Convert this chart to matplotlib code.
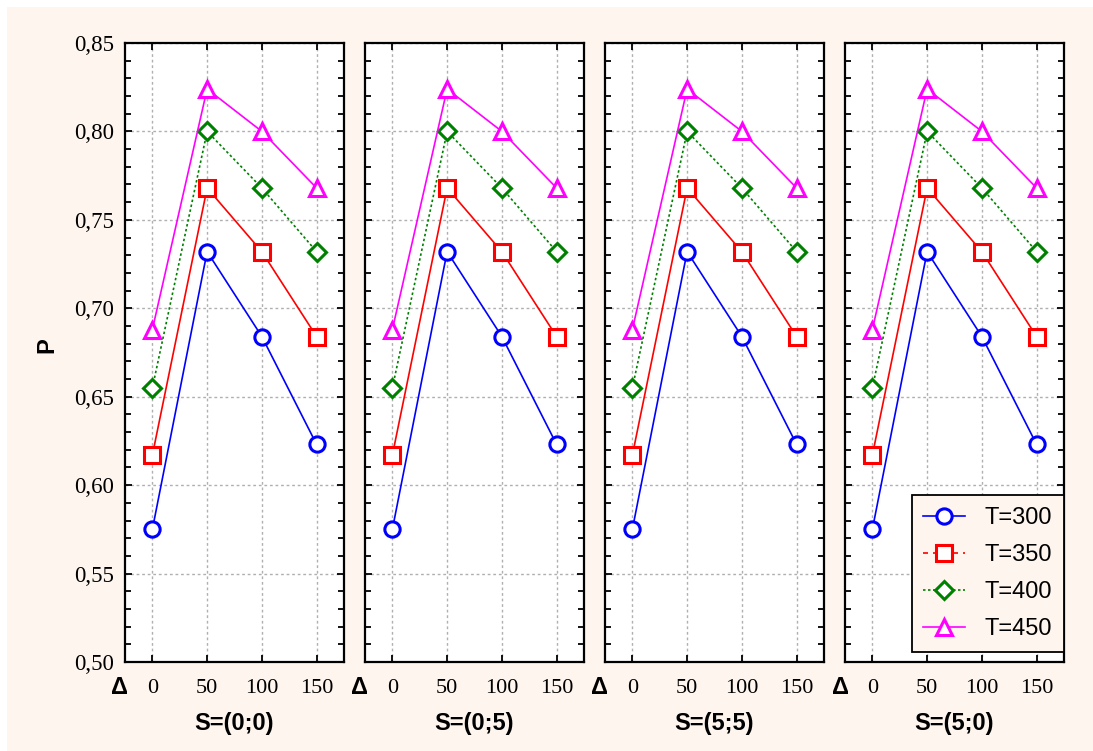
import matplotlib
matplotlib.use("Agg")
import matplotlib.pyplot as plt
from matplotlib.patches import Rectangle
from matplotlib.lines import Line2D
from matplotlib.ticker import MultipleLocator, FixedLocator

# ---- data ----
delta = [0, 50, 100, 150]
panels = ["S=(0;0)", "S=(0;5)", "S=(5;5)", "S=(5;0)"]
series_labels = ["T=300", "T=350", "T=400", "T=450"]
p_t300 = [0.575, 0.732, 0.684, 0.623]
p_t350 = [0.617, 0.768, 0.732, 0.684]
p_t400 = [0.655, 0.800, 0.768, 0.732]
p_t450 = [0.688, 0.824, 0.800, 0.768]
series_values = [p_t300, p_t350, p_t400, p_t450]
y_ticks = [0.50, 0.55, 0.60, 0.65, 0.70, 0.75, 0.80, 0.85]

# ---- styles ----
colors = ["#0000ff", "#ff0000", "#008000", "#ff00ff"]
markers = ["o", "s", "D", "^"]
msizes = [11, 11, 9, 12]
plot_ls = ["-", "-", (0, (1.5, 1.5)), "-"]
leg_ls = ["-", (0, (3, 3)), (0, (1.5, 1.5)), "-"]
cream = "#fdf5ee"

W, H = 1093, 751
fig = plt.figure(figsize=(W / 100, H / 100), dpi=100, facecolor="white")
fig.patches.append(Rectangle((7 / W, 0), 1, 1 - 7 / H, transform=fig.transFigure,
                             facecolor=cream, edgecolor="none", zorder=-10))

lefts = [125, 365, 605, 845]
pw = 219
top, bottom = 43, 662
serif = "Liberation Serif"
sans = "Liberation Sans"

axes = []
for i, lx in enumerate(lefts):
    ax = fig.add_axes([lx / W, 1 - bottom / H, pw / W, (bottom - top) / H])
    ax.set_facecolor("white")
    for vals, c, m, ms, ls in zip(series_values, colors, markers, msizes, plot_ls):
        ax.plot(delta, vals, color=c, lw=1.2, ls=ls, marker=m, ms=ms,
                mfc="white", mec=c, mew=2.2, clip_on=False, zorder=3)
    ax.set_xlim(-25, 175)
    ax.set_ylim(0.50, 0.85)
    ax.xaxis.set_major_locator(FixedLocator(delta))
    ax.yaxis.set_major_locator(FixedLocator(y_ticks))
    ax.yaxis.set_minor_locator(MultipleLocator(0.01))
    ax.grid(True, which="major", color="#b0b0b0", ls=(0, (2, 2)), lw=1.0)
    ax.set_axisbelow(True)
    ax.tick_params(which="both", direction="in", top=True, right=True,
                   width=1.3, colors="black")
    ax.tick_params(which="major", length=5)
    ax.tick_params(which="minor", length=4)
    ax.tick_params(axis="x", labelsize=16, pad=12)
    ax.tick_params(axis="y", labelsize=16.5, pad=8)
    ax.set_xticklabels([str(d) for d in delta], fontfamily=serif)
    if i == 0:
        ax.set_yticklabels([f"{v:.2f}".replace(".", ",") for v in y_ticks],
                           fontfamily=serif)
    else:
        ax.set_yticklabels([])
    for sp in ax.spines.values():
        sp.set_linewidth(1.6)
    ax.set_xlabel(panels[i], fontsize=17, fontweight="bold", fontfamily=sans,
                  labelpad=10)
    fig.text((lx - 5) / W, 1 - 688 / H, "Δ", fontsize=17, fontweight="bold",
             fontfamily=sans, ha="center", va="center")
    axes.append(ax)

fig.text(47 / W, 1 - 345 / H, "P", fontsize=17, fontweight="bold",
         fontfamily=sans, rotation=90, ha="center", va="center")

handles = [Line2D([], [], color=c, ls=ls, lw=1.2, marker=m, ms=ms, mfc="white",
                  mec=c, mew=2.2)
           for c, ls, m, ms in zip(colors, leg_ls, markers, msizes)]
leg = fig.legend(handles, series_labels, loc="lower right",
                 bbox_to_anchor=(1064 / W, 1 - 652 / H), borderaxespad=0,
                 prop={"family": sans, "size": 17}, frameon=True, fancybox=False,
                 edgecolor="black", facecolor=cream, framealpha=1,
                 handlelength=1.75, labelspacing=0.64, handletextpad=0.85,
                 borderpad=0.5)
leg.get_frame().set_linewidth(1.3)

fig.savefig("out.png", dpi=100, facecolor="white")
